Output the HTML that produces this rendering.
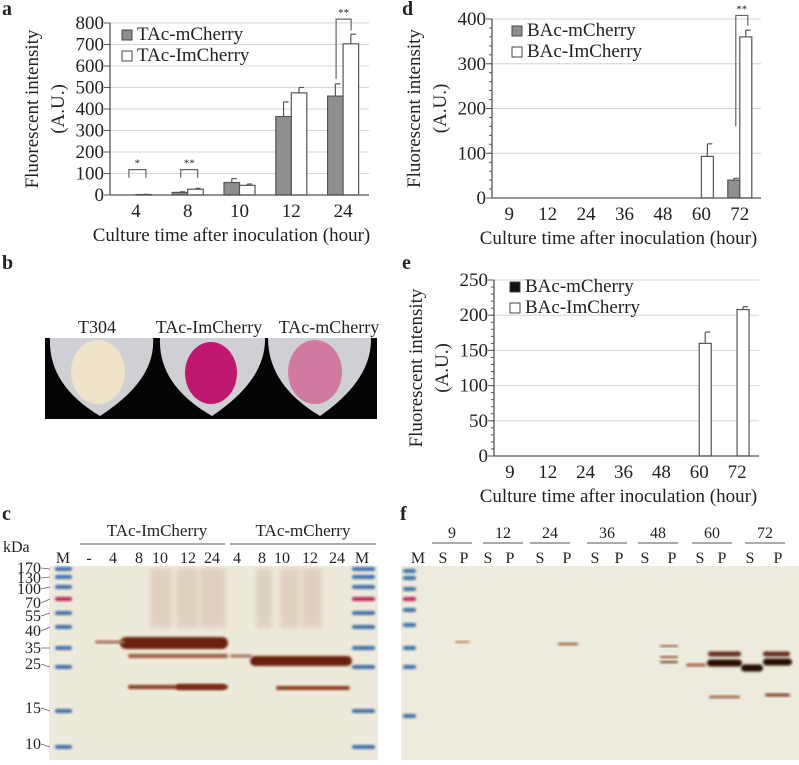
<!DOCTYPE html>
<html><head><meta charset="utf-8"><style>
html,body{margin:0;padding:0;background:#fff;}
svg text{font-family:"Liberation Serif",serif;fill:#222;}
</style></head><body>
<svg id="fig" width="799" height="760" viewBox="0 0 799 760" xmlns="http://www.w3.org/2000/svg">
<defs>
<filter id="blur1" x="-20%" y="-50%" width="140%" height="200%"><feGaussianBlur stdDeviation="1.2"/></filter>
<filter id="blur2" x="-20%" y="-50%" width="140%" height="200%"><feGaussianBlur stdDeviation="2.5"/></filter>
</defs>
<g id="chartA"></g>
<g id="chartD"></g>
<g id="chartE"></g>

<text x="2" y="15" font-size="20" font-weight="bold">a</text>
<text x="402" y="15" font-size="20" font-weight="bold">d</text>
<text x="2" y="269" font-size="20" font-weight="bold">b</text>
<text x="402" y="269" font-size="20" font-weight="bold">e</text>
<text x="2" y="520" font-size="20" font-weight="bold">c</text>
<text x="400" y="520" font-size="20" font-weight="bold">f</text>

<g>
<text x="97" y="333" font-size="18" text-anchor="middle">T304</text>
<text x="209" y="333" font-size="18" text-anchor="middle">TAc-ImCherry</text>
<text x="329" y="333" font-size="18" text-anchor="middle">TAc-mCherry</text>
<rect x="45" y="338" width="332" height="81" fill="#050505"/>
<path d="M50 338 L153 338 Q156 380 100 416 Q48 385 50 338Z" fill="#cfd0d4"/>
<path d="M160 338 L265 338 Q266 380 212 416 Q158 385 160 338Z" fill="#cfd0d4"/>
<path d="M268 338 L371 338 Q372 380 320 416 Q268 385 268 338Z" fill="#cfd0d4"/>
<ellipse cx="98" cy="372" rx="27" ry="32" fill="#efe3c8"/>
<ellipse cx="211" cy="373" rx="26" ry="31" fill="#c0186e"/>
<ellipse cx="315" cy="372" rx="27" ry="32" fill="#d07aa0"/>
</g>

<g>
<text x="157" y="536" font-size="17" text-anchor="middle">TAc-ImCherry</text>
<line x1="80" y1="544" x2="225" y2="544" stroke="#555" stroke-width="1"/>
<text x="303" y="536" font-size="17" text-anchor="middle">TAc-mCherry</text>
<line x1="230" y1="544" x2="376" y2="544" stroke="#555" stroke-width="1"/>
<text x="3" y="552" font-size="16">kDa</text>
<g id="cLanes" font-size="16" text-anchor="middle"></g>
<rect x="49" y="566" width="329" height="194" fill="#eeeadb"/>
<g id="cMarkers"></g>
<g id="cBands"></g>
</g>

<g>
<g id="fHeader" font-size="16" text-anchor="middle"></g>
<rect x="401" y="566" width="398" height="194" fill="#ecebdd"/>
<g id="fMarkers"></g>
<g id="fBands"></g>
</g>
</svg>
<script>
const NS="http://www.w3.org/2000/svg";
function mk(parent,tag,attrs,text){const e=document.createElementNS(NS,tag);for(const k in attrs)e.setAttribute(k,attrs[k]);if(text!==undefined)e.textContent=text;parent.appendChild(e);return e;}

const aCategories=["4","8","10","12","24"];
const aMCherry=[0,12,58,365,460];
const aMCherryErr=[0,3,18,68,57];
const aImCherry=[2,27,45,475,703];
const aImCherryErr=[1,4,6,25,45];
const aTicks=[0,100,200,300,400,500,600,700,800];

const dCategories=["9","12","24","36","48","60","72"];
const dMCherry=[0,0,0,0,0,0,40];
const dMCherryErr=[0,0,0,0,0,0,4];
const dImCherry=[0,0,0,0,0,93,360];
const dImCherryErr=[0,0,0,0,0,28,15];
const dTicks=[0,100,200,300,400];

const eCategories=["9","12","24","36","48","60","72"];
const eMCherry=[0,0,0,0,0,0,0];
const eMCherryErr=[0,0,0,0,0,0,0];
const eImCherry=[0,0,0,0,0,160,208];
const eImCherryErr=[0,0,0,0,0,16,4];
const eTicks=[0,50,100,150,200,250];

function barChart(g,o){
  const y=v=>o.y0-(v-o.vmin)/(o.vmax-o.vmin)*(o.y0-o.y1);
  const step=(o.x1-o.x0)/o.cats.length;
  const cx=i=>o.x0+step*(i+0.5)+o.shift;
  o.ticks.forEach(t=>{if(t>0){const l=mk(g,'line',{x1:o.x0,x2:o.x1,y1:y(t),y2:y(t),stroke:'#d4d4d4','stroke-width':1});
    
    }});
  const minor=(o.ticks[1]-o.ticks[0])/o.minorN;
  for(let v=o.vmin;v<=o.vmax+0.01;v+=minor){mk(g,'line',{x1:o.x0-3,x2:o.x0,y1:y(v),y2:y(v),stroke:'#555','stroke-width':1});}
  o.ticks.forEach(t=>{mk(g,'line',{x1:o.x0-6,x2:o.x0,y1:y(t),y2:y(t),stroke:'#555','stroke-width':1});
    const tl=mk(g,'text',{x:o.x0-6,y:y(t)+6,'font-size':19,'text-anchor':'end'},String(t));
    
    });
  o.cats.forEach((c,i)=>{
    const xc=cx(i);
    [[o.s1,o.e1,o.fill1,-1],[o.s2,o.e2,'#fff',0]].forEach(([s,e,f,k])=>{
      const v=s[i];if(v<=0&&e[i]<=0)return;
      const bx=xc+k*o.bw;
      const r=mk(g,'rect',{x:bx,y:y(v),width:o.bw,height:y(0)-y(v),fill:f,stroke:'#555','stroke-width':1.2});
      
      
      if(e[i]>0){mk(g,'line',{x1:bx+o.bw/2,x2:bx+o.bw/2,y1:y(v),y2:y(v+e[i]),stroke:'#555','stroke-width':1.2});
        mk(g,'line',{x1:bx+o.bw/2,x2:bx+o.bw/2+5,y1:y(v+e[i]),y2:y(v+e[i]),stroke:'#555','stroke-width':1.2});}
    });
    const xl=mk(g,'text',{x:xc,y:o.y0+22,'font-size':19,'text-anchor':'middle'},c);
    
    
  });
  mk(g,'line',{x1:o.x0,x2:o.x0,y1:o.y1,y2:o.y0,stroke:'#555','stroke-width':1.3});
  mk(g,'line',{x1:o.x0,x2:o.x1,y1:o.y0,y2:o.y0,stroke:'#555','stroke-width':1.3});
  const xt=mk(g,'text',{x:(o.x0+o.x1)/2-8,y:o.y0+46,'font-size':19,'text-anchor':'middle'},'Culture time after inoculation (hour)');
  
  
  const ym=(o.y0+o.y1)/2;
  const yt=mk(g,'text',{x:0,y:0,'font-size':19,'text-anchor':'middle',transform:`translate(${o.x0-72},${ym}) rotate(-90)`},'Fluorescent intensity');
  
  
  mk(g,'text',{x:0,y:0,'font-size':19,'text-anchor':'middle',transform:`translate(${o.x0-46},${ym}) rotate(-90)`},'(A.U.)');
  o.legend.forEach((L,j)=>{
    const ly=o.legY+j*21;
    const s=mk(g,'rect',{x:o.legX,y:ly-10,width:10,height:10,fill:L[1],stroke:'#444','stroke-width':1});
    
    
    const t=mk(g,'text',{x:o.legX+15,y:ly,'font-size':19},L[0]);
    
    
  });
  return {y,cx};
}
function bracket(g,x1,yA,x2,yB,top,label){
  mk(g,'path',{d:`M${x1} ${yA} L${x1} ${top} L${x2} ${top} L${x2} ${yB}`,fill:'none',stroke:'#666','stroke-width':1.2});
  const t=mk(g,'text',{x:(x1+x2)/2,y:top-3,'font-size':11,'text-anchor':'middle',fill:'#666'},label);
  
  
}
const gA=document.getElementById('chartA');
const A=barChart(gA,{x0:110,x1:369,y0:195,y1:23,vmin:0,vmax:800,cats:aCategories,s1:aMCherry,e1:aMCherryErr,s2:aImCherry,e2:aImCherryErr,ticks:aTicks,minorN:1,bw:15.5,shift:0,fill1:'#8f8f8f',legX:122,legY:40,legend:[['TAc-mCherry','#8f8f8f'],['TAc-ImCherry','#fff']]});
bracket(gA,A.cx(0)-7,A.y(80),A.cx(0)+10,A.y(80),A.y(118),'*');
bracket(gA,A.cx(1)-7,A.y(80),A.cx(1)+10,A.y(80),A.y(118),'**');
bracket(gA,A.cx(4)-7,A.y(540),A.cx(4)+8,A.y(765),A.y(818),'**');

const gD=document.getElementById('chartD');
const D=barChart(gD,{x0:492,x1:761,y0:198,y1:19,vmin:0,vmax:400,cats:dCategories,s1:dMCherry,e1:dMCherryErr,s2:dImCherry,e2:dImCherryErr,ticks:dTicks,minorN:5,bw:12,shift:-2,fill1:'#8f8f8f',legX:512,legY:36,legend:[['BAc-mCherry','#8f8f8f'],['BAc-ImCherry','#fff']]});
bracket(gD,D.cx(6)-4,D.y(160),D.cx(6)+8,D.y(385),D.y(408),'**');

const gE=document.getElementById('chartE');
barChart(gE,{x0:494,x1:759,y0:456,y1:280,vmin:0,vmax:250,cats:eCategories,s1:eMCherry,e1:eMCherryErr,s2:eImCherry,e2:eImCherryErr,ticks:eTicks,minorN:5,bw:12,shift:-3,fill1:'#111',legX:510,legY:292,legend:[['BAc-mCherry','#111'],['BAc-ImCherry','#fff']]});

const cLaneLabels=["M","-","4","8","10","12","24","4","8","10","12","24","M"];
const cLaneX=[63,89,113,139,160,188,212,237,262,282,310,337,362];
const cL=document.getElementById('cLanes');
cLaneLabels.forEach((l,i)=>{const t=mk(cL,'text',{x:cLaneX[i],y:563},l);
  
  });
const kdaLabels=["170","130","100","70","55","40","35","25","15","10"];
const kdaY=[573,583,594,608,621,636,653,669,713,749];
const kdaMark=[569,577,587,599,613,627,648,667,711,747];
kdaLabels.forEach((k,i)=>{const t=mk(cL.parentNode,'text',{x:41,y:kdaY[i],'font-size':16,'text-anchor':'end'},k);
  
  
  mk(cL.parentNode,'line',{x1:41,x2:50,y1:kdaY[i]-5,y2:kdaMark[i],stroke:'#666','stroke-width':0.8});});
const cm=document.getElementById('cMarkers');
kdaMark.forEach((yy,i)=>{[[55,72],[352,375]].forEach(([a,b])=>{
  mk(cm,'rect',{x:a,y:yy-2,width:b-a,height:4,rx:2,fill:i===3?'#c0245a':'#3c6ea8',filter:'url(#blur1)'});});});
const cb=document.getElementById('cBands');
[[150,172],[176,198],[200,226],[256,272],[280,300],[302,322]].forEach(s=>{
  mk(cb,'rect',{x:s[0],y:568,width:s[1]-s[0],height:60,fill:'#c09a80',opacity:0.3,filter:'url(#blur2)'});});
[[120,228,643,6,'#6a2410'],[250,352,661,5,'#6a2410'],[128,228,656,2,'#9a5a3a'],[128,228,687,2,'#8a3a1a'],[176,226,687,3,'#7a2a14'],[276,350,688,2,'#8a3a1a'],[95,125,642,1.5,'#a0705a'],[230,252,656,1.5,'#a0705a']].forEach(b=>{
  mk(cb,'rect',{x:b[0],y:b[2]-b[3],width:b[1]-b[0],height:2*b[3],rx:b[3],fill:b[4],filter:'url(#blur1)'});});

const fGroups=["9","12","24","36","48","60","72"];
const fGroupX=[452,503,550,607,658,712,765];
const fLaneX=[443,464,488,510,540,567,595,619,645,672,700,722,750,778];
const fh=document.getElementById('fHeader');
fGroups.forEach((g,i)=>{const t=mk(fh,'text',{x:fGroupX[i],y:538},g);
  
  
  mk(fh,'line',{x1:fGroupX[i]-20,x2:fGroupX[i]+20,y1:543,y2:543,stroke:'#555','stroke-width':1});});
const mt=mk(fh,'text',{x:418,y:563},'M');


fLaneX.forEach((x,i)=>{const t=mk(fh,'text',{x:x,y:563},i%2?'P':'S');
  
  });
const fm=document.getElementById('fMarkers');
[571,578,589,599,610,625,648,667,716].forEach((yy,i)=>{
  mk(fm,'rect',{x:403,y:yy-2,width:13,height:4,rx:2,fill:i===3?'#c0245a':'#3c6ea8',filter:'url(#blur1)'});});
const fb=document.getElementById('fBands');
[[455,470,642,1,'#b08060'],[558,578,644,1.2,'#a06040'],[660,678,646,1,'#a06040'],[660,678,657,1,'#8a5030'],[660,678,662,1.2,'#8a5030'],[686,706,665,1.5,'#a06040'],
 [708,741,654,2.5,'#6a2a1a'],[707,742,663,3.5,'#2a0c06'],[741,763,668,3.5,'#200a06'],[763,790,654,2.5,'#6a2a1a'],[763,792,662,3.5,'#2a0c06'],[709,740,697,1.3,'#9a5a3a'],[765,790,695,1.5,'#8a3a1a']].forEach(b=>{
  mk(fb,'rect',{x:b[0],y:b[2]-b[3],width:b[1]-b[0],height:2*b[3],rx:b[3],fill:b[4],filter:'url(#blur1)'});});
</script>
</body></html>
